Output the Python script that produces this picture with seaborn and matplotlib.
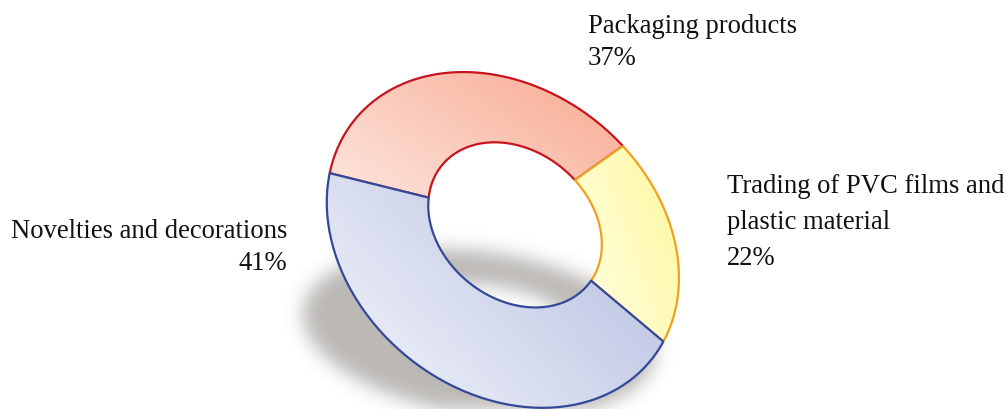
import numpy as np
import matplotlib
matplotlib.use("Agg")
import matplotlib.pyplot as plt
from matplotlib.path import Path
from matplotlib.patches import PathPatch
import seaborn as sns

# ---------------------------------------
# Data
# ---------------------------------------
segments = ["Packaging products", "Trading of PVC films and plastic material", "Novelties and decorations"]
shares = [37, 22, 41]
label_lines = [["Packaging products", "37%"],
               ["Trading of PVC films and", "plastic material", "22%"],
               ["Novelties and decorations", "41%"]]

light_cols = ["#fde6de", "#ffffe8", "#f5f6fc"]
dark_cols = ["#f8a98f", "#fff89c", "#b0badd"]
edge_cols = ["#c8141e", "#f0a020", "#34489a"]

# ---------------------------------------
# Ring geometry (tilted ring seen in perspective)
# ---------------------------------------
W, H = 1007, 410
S, COS_T, K, R_IN = 188.0, 0.78, 0.17, 0.5
AX = np.radians(51)
e = np.array([np.cos(AX - np.pi / 2), np.sin(AX - np.pi / 2)])
f = np.array([np.cos(AX), np.sin(AX)])
PX, PY = 519.0, 221.0
START = 211.0


def project(theta_deg, rho):
    t = np.radians(theta_deg)
    u, v = rho * np.cos(t), rho * np.sin(t)
    w = 1.0 / (1.0 + K * v)
    p, q = S * u * w, S * COS_T * v * w
    ox = p * e[0] + q * f[0]
    oy = p * e[1] + q * f[1]
    return PX + ox, PY - oy


def ring_piece(a0, a1):
    th = np.linspace(a0, a1, 120)
    xo, yo = project(th, 1.0)
    xi, yi = project(th[::-1], R_IN)
    xs = np.concatenate([xo, xi, xo[:1]])
    ys = np.concatenate([yo, yi, yo[:1]])
    return np.column_stack([xs, ys])


sns.set_theme(style="white")
plt.rcParams["font.family"] = ["Liberation Serif", "DejaVu Serif"]

fig = plt.figure(figsize=(W / 100, H / 100), dpi=100)
ax = fig.add_axes([0, 0, 1, 1])
ax.set_xlim(0, W)
ax.set_ylim(H, 0)
ax.axis("off")

# ---------------------------------------
# Shadow (blurred, flattened copy of the ring)
# ---------------------------------------
full = np.linspace(0, 360, 400)
ox_, oy_ = project(full, 1.0)
ix_, iy_ = project(full, R_IN)
top = oy_.min()


def to_shadow(x, y):
    return np.column_stack([x - 24, 250 + (y - top) * 0.5])


gx, gy = np.meshgrid(np.arange(W) + 0.5, np.arange(H) + 0.5)
pts = np.column_stack([gx.ravel(), gy.ravel()])
m_out = Path(to_shadow(ox_, oy_)).contains_points(pts)
m_in = Path(to_shadow(ix_, iy_)).contains_points(pts)
mask = (m_out & ~m_in).reshape(H, W).astype(float)

sig = 9.0
kx = np.arange(-30, 31)
kern = np.exp(-kx ** 2 / (2 * sig ** 2))
kern /= kern.sum()
mask = np.apply_along_axis(lambda r: np.convolve(r, kern, mode="same"), 1, mask)
mask = np.apply_along_axis(lambda c: np.convolve(c, kern, mode="same"), 0, mask)

shadow = np.zeros((H, W, 4))
shadow[..., 0] = 0.47
shadow[..., 1] = 0.45
shadow[..., 2] = 0.42
shadow[..., 3] = mask * 0.5
ax.imshow(shadow, extent=(0, W, H, 0), zorder=1, interpolation="bilinear")

# ---------------------------------------
# Ring segments with gradient fill
# ---------------------------------------
bounds = START - np.concatenate([[0], np.cumsum(shares)]) / sum(shares) * 360
for i in range(len(shares)):
    poly = ring_piece(bounds[i], bounds[i + 1])
    x0, x1 = poly[:, 0].min(), poly[:, 0].max()
    y0, y1 = poly[:, 1].min(), poly[:, 1].max()
    gxx, gyy = np.meshgrid(np.linspace(0, 1, 64), np.linspace(0, 1, 64))
    t = np.clip(0.6 * gxx + 0.4 * gyy[::-1], 0, 1)  # light at bottom-left
    c0 = np.array(matplotlib.colors.to_rgb(light_cols[i]))
    c1 = np.array(matplotlib.colors.to_rgb(dark_cols[i]))
    img = c0 + (c1 - c0) * t[..., None]
    patch = PathPatch(Path(poly), facecolor="none", edgecolor=edge_cols[i],
                      lw=1.6, zorder=3 + i, joinstyle="round")
    ax.add_patch(patch)
    im = ax.imshow(img, extent=(x0, x1, y1, y0), zorder=2 + i, interpolation="bilinear")
    im.set_clip_path(patch)

# ---------------------------------------
# Labels
# ---------------------------------------
fs = 19.2
for j, line in enumerate(label_lines[0]):
    ax.text(588, 33 + 32 * j, line, fontsize=fs, ha="left", va="baseline", color="#111111")
for j, line in enumerate(label_lines[1]):
    ax.text(727, 193 + 36 * j, line, fontsize=fs, ha="left", va="baseline", color="#111111")
for j, line in enumerate(label_lines[2]):
    ax.text(287, 238 + 32 * j, line, fontsize=fs, ha="right", va="baseline", color="#111111")

fig.savefig("out.png", dpi=100)
